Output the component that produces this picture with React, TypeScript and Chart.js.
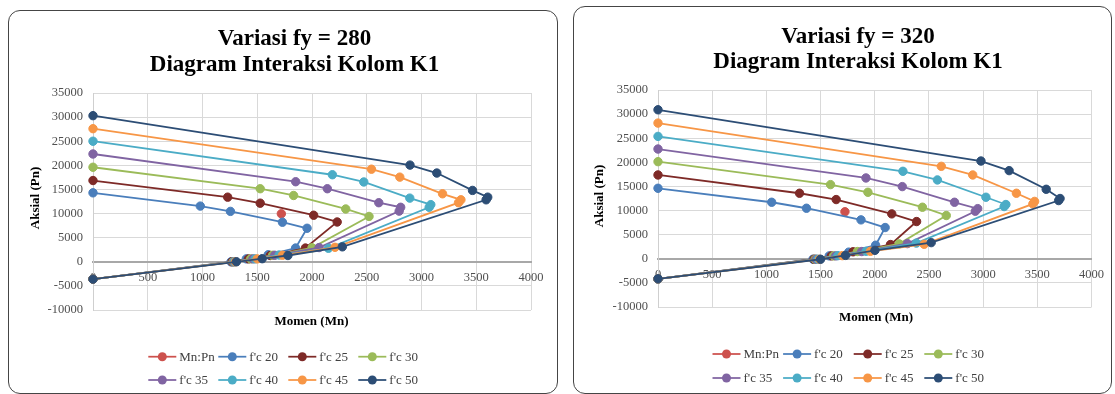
import React, { useEffect, useRef } from 'react';
import { Chart, registerables } from 'chart.js';

Chart.register(...registerables);

type Pt = [number, number];

const SERIF = '"Liberation Serif", "Times New Roman", serif';

// Chart texts
const TITLE_LINE_2 = 'Diagram Interaksi Kolom K1';
const X_TITLE = 'Momen (Mn)';
const Y_TITLE = 'Aksial (Pn)';

// Series labels and colours (legend order)
const SERIES_LABELS = ['Mn:Pn', "f'c 20", "f'c 25", "f'c 30", "f'c 35", "f'c 40", "f'c 45", "f'c 50"];
const SERIES_COLORS = ['#CD514D', '#4A7EBB', '#7E2A27', '#9BBB59', '#8064A2', '#4BACC6', '#F79646', '#2C4D75'];

// Axis ranges / ticks
const X_MIN = 0;
const X_MAX = 4000;
const X_STEP = 500;
const Y_MIN = -10000;
const Y_MAX = 35000;
const Y_STEP = 5000;

// ---------- fy = 280 (Mn, Pn) ----------
const FY280_MNPN: Pt[] = [[1720, 9950]];
const FY280_FC20: Pt[] = [[0, 14300], [980, 11550], [1255, 10450], [1730, 8200], [1955, 6950], [1850, 2850], [1600, 1450], [1400, 600], [1260, 0], [0, -3600]];
const FY280_FC25: Pt[] = [[0, 16850], [1230, 13400], [1527, 12150], [2015, 9650], [2230, 8250], [1940, 2850], [1620, 1300], [1420, 600], [1270, 0], [0, -3600]];
const FY280_FC30: Pt[] = [[0, 19600], [1527, 15150], [1832, 13750], [2308, 10950], [2521, 9400], [2000, 2900], [1640, 1350], [1440, 600], [1280, 0], [0, -3600]];
const FY280_FC35: Pt[] = [[0, 22350], [1851, 16600], [2140, 15150], [2610, 12250], [2810, 11300], [2796, 10500], [2065, 2950], [1660, 1350], [1460, 600], [1285, 0], [0, -3600]];
const FY280_FC40: Pt[] = [[0, 25000], [2186, 18050], [2473, 16550], [2893, 13200], [3085, 11850], [3070, 11300], [2150, 2800], [1700, 1400], [1480, 600], [1290, 0], [0, -3600]];
const FY280_FC45: Pt[] = [[0, 27600], [2543, 19200], [2802, 17550], [3192, 14100], [3360, 12850], [3338, 12250], [2210, 3000], [1730, 1350], [1500, 600], [1300, 0], [0, -3600]];
const FY280_FC50: Pt[] = [[0, 30300], [2895, 20050], [3140, 18400], [3466, 14800], [3605, 13400], [3590, 12850], [2277, 3100], [1780, 1300], [1545, 640], [1310, 0], [0, -3600]];

// ---------- fy = 320 (Mn, Pn) ----------
const FY320_MNPN: Pt[] = [[1725, 9750]];
const FY320_FC20: Pt[] = [[0, 14620], [1049, 11720], [1370, 10480], [1873, 8070], [2096, 6480], [2008, 2810], [1760, 1380], [1580, 600], [1430, -100], [0, -4150]];
const FY320_FC25: Pt[] = [[0, 17380], [1306, 13590], [1644, 12280], [2157, 9310], [2386, 7720], [2145, 2950], [1800, 1450], [1600, 600], [1440, -100], [0, -4150]];
const FY320_FC30: Pt[] = [[0, 20140], [1592, 15380], [1937, 13790], [2440, 10690], [2660, 8970], [2225, 3100], [1840, 1500], [1620, 600], [1450, -100], [0, -4150]];
const FY320_FC35: Pt[] = [[0, 22760], [1919, 16760], [2254, 14970], [2736, 11720], [2950, 10400], [2928, 9860], [2301, 3150], [1880, 1500], [1640, 600], [1460, -100], [0, -4150]];
const FY320_FC40: Pt[] = [[0, 25380], [2260, 18140], [2578, 16350], [3026, 12760], [3210, 11250], [3194, 10830], [2384, 3250], [1920, 1550], [1660, 650], [1475, -100], [0, -4150]];
const FY320_FC45: Pt[] = [[0, 28140], [2614, 19170], [2904, 17380], [3307, 13590], [3475, 11900], [3459, 11380], [2456, 3000], [1960, 1550], [1700, 650], [1490, -100], [0, -4150]];
const FY320_FC50: Pt[] = [[0, 30900], [2980, 20270], [3240, 18280], [3582, 14410], [3710, 12500], [3697, 12070], [2521, 3350], [2002, 1750], [1730, 700], [1500, -100], [0, -4150]];

interface ChartCfg {
  title: string;
  series: Pt[][];
  box: { left: number; top: number; width: number; height: number };
  padTop: number;
  padRight: number;
  padBottom: number;
  axisWidth: number;
  titleX: number;
  titleY1: number;
  titleY2: number;
  xTitleX: number;
  xTitleY: number;
  yTitleX: number;
  yTitleY: number;
  legendX: number;
  legendPitch: number;
  legendRows: number[];
}

const LEFT_CFG: ChartCfg = {
  title: 'Variasi fy = 280',
  series: [FY280_MNPN, FY280_FC20, FY280_FC25, FY280_FC30, FY280_FC35, FY280_FC40, FY280_FC45, FY280_FC50],
  box: { left: 8, top: 10, width: 550, height: 384 },
  padTop: 83,
  padRight: 27,
  padBottom: 84,
  axisWidth: 85,
  titleX: 286.5,
  titleY1: 35,
  titleY2: 61,
  xTitleX: 303.5,
  xTitleY: 312,
  yTitleX: 27.5,
  yTitleY: 188,
  legendX: 140.3,
  legendPitch: 70,
  legendRows: [346.7, 370],
};

const RIGHT_CFG: ChartCfg = {
  title: 'Variasi fy = 320',
  series: [FY320_MNPN, FY320_FC20, FY320_FC25, FY320_FC30, FY320_FC35, FY320_FC40, FY320_FC45, FY320_FC50],
  box: { left: 573, top: 6, width: 539, height: 388 },
  padTop: 84,
  padRight: 17,
  padBottom: 87,
  axisWidth: 85,
  titleX: 285,
  titleY1: 36.7,
  titleY2: 62.3,
  xTitleX: 303,
  xTitleY: 312,
  yTitleX: 27,
  yTitleY: 190,
  legendX: 139.5,
  legendPitch: 70.6,
  legendRows: [348, 372],
};

function decorPlugin(c: ChartCfg) {
  return {
    id: 'decor',
    afterDraw(chart: any) {
      const ctx: CanvasRenderingContext2D = chart.ctx;
      ctx.save();
      // Titles
      ctx.fillStyle = '#000000';
      ctx.textAlign = 'center';
      ctx.textBaseline = 'alphabetic';
      ctx.font = `bold 23px ${SERIF}`;
      ctx.fillText(c.title, c.titleX, c.titleY1);
      ctx.fillText(TITLE_LINE_2, c.titleX, c.titleY2);
      // Axis titles
      ctx.font = `bold 13px ${SERIF}`;
      ctx.textBaseline = 'middle';
      ctx.fillText(X_TITLE, c.xTitleX, c.xTitleY);
      ctx.save();
      ctx.translate(c.yTitleX, c.yTitleY);
      ctx.rotate(-Math.PI / 2);
      ctx.fillText(Y_TITLE, 0, 0);
      ctx.restore();
      // Legend (2 rows x 4 columns)
      ctx.font = `13px ${SERIF}`;
      ctx.textAlign = 'left';
      ctx.textBaseline = 'middle';
      SERIES_LABELS.forEach((label, i) => {
        const row = Math.floor(i / 4);
        const col = i % 4;
        const x = c.legendX + col * c.legendPitch;
        const y = c.legendRows[row];
        const color = SERIES_COLORS[i];
        ctx.strokeStyle = color;
        ctx.lineWidth = 1.75;
        ctx.beginPath();
        ctx.moveTo(x, y);
        ctx.lineTo(x + 28, y);
        ctx.stroke();
        ctx.fillStyle = color;
        ctx.beginPath();
        ctx.arc(x + 14, y, 4.5, 0, Math.PI * 2);
        ctx.fill();
        ctx.fillStyle = '#404040';
        ctx.fillText(label, x + 31, y + 0.5);
      });
      ctx.restore();
    },
  };
}

function InteractionChart({ cfg }: { cfg: ChartCfg }) {
  const ref = useRef<HTMLCanvasElement>(null);
  useEffect(() => {
    const n = SERIES_LABELS.length;
    const datasets = cfg.series.map((pts, i) => ({
      label: SERIES_LABELS[i],
      data: pts.map(([x, y]) => ({ x, y })),
      showLine: true,
      borderColor: SERIES_COLORS[i],
      backgroundColor: SERIES_COLORS[i],
      pointBackgroundColor: SERIES_COLORS[i],
      pointBorderColor: SERIES_COLORS[i],
      pointRadius: 4.2,
      pointBorderWidth: 1,
      pointHoverRadius: 4.2,
      borderWidth: 1.8,
      tension: 0,
      clip: false as any,
      order: n - 1 - i,
    }));
    const tickFont = { family: SERIF, size: 12.5 };
    const chart = new Chart(ref.current as HTMLCanvasElement, {
      type: 'scatter',
      data: { datasets: datasets as any },
      options: {
        animation: false,
        responsive: false,
        maintainAspectRatio: false,
        events: [],
        layout: { padding: { left: 0, top: cfg.padTop, right: cfg.padRight, bottom: cfg.padBottom } },
        plugins: {
          legend: { display: false },
          tooltip: { enabled: false },
          title: { display: false },
        },
        scales: {
          x: {
            type: 'linear',
            position: { y: 0 } as any,
            min: X_MIN,
            max: X_MAX,
            ticks: {
              stepSize: X_STEP,
              padding: 8,
              color: '#505050',
              font: tickFont,
              maxRotation: 0,
              autoSkip: false,
              callback: (v: any) => String(v),
            },
            grid: { color: '#d9d9d9', lineWidth: 1, drawTicks: false },
            border: { color: '#a8a8a8', width: 2 },
          },
          y: {
            type: 'linear',
            position: 'left',
            min: Y_MIN,
            max: Y_MAX,
            ticks: {
              stepSize: Y_STEP,
              padding: 10,
              color: '#505050',
              font: tickFont,
              callback: (v: any) => String(v),
            },
            grid: { color: '#d9d9d9', lineWidth: 1, drawTicks: false },
            border: { color: '#cfcfcf', width: 1 },
            afterFit: (scale: any) => {
              scale.width = cfg.axisWidth;
            },
          },
        },
      },
      plugins: [decorPlugin(cfg)],
    });
    return () => chart.destroy();
  }, [cfg]);

  const b = cfg.box;
  return (
    <>
      <canvas
        ref={ref}
        width={b.width}
        height={b.height}
        style={{ position: 'absolute', left: b.left, top: b.top, width: b.width, height: b.height, display: 'block' }}
      />
      <div
        style={{
          position: 'absolute',
          left: b.left,
          top: b.top,
          width: b.width,
          height: b.height,
          boxSizing: 'border-box',
          border: '1.5px solid #454545',
          borderRadius: 12,
          pointerEvents: 'none',
        }}
      />
    </>
  );
}

export default function App() {
  return (
    <div style={{ position: 'absolute', left: 0, top: 0, width: 1115, height: 394, background: '#ffffff', overflow: 'hidden' }}>
      <InteractionChart cfg={LEFT_CFG} />
      <InteractionChart cfg={RIGHT_CFG} />
    </div>
  );
}
